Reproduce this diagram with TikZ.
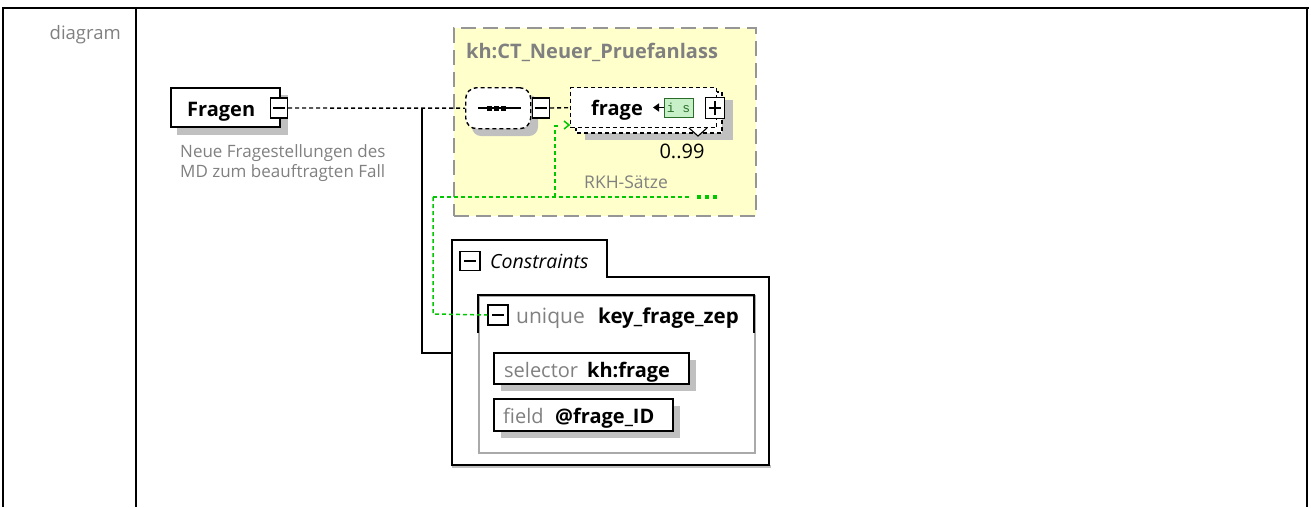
\documentclass[tikz,border=0pt]{standalone}
\usepackage{fontspec}
\setmainfont{Open Sans}
\newfontfamily\monofont{Liberation Mono}
\usetikzlibrary{arrows.meta}
\definecolor{shadowgray}{RGB}{192,192,192}
\definecolor{txtgray}{RGB}{128,128,128}
\definecolor{yellowbg}{RGB}{255,255,204}
\definecolor{dashgray}{RGB}{150,150,150}
\definecolor{linkgreen}{RGB}{0,200,0}
\definecolor{isfill}{RGB}{200,240,200}
\definecolor{isborder}{RGB}{40,110,40}
\definecolor{uniquegray}{RGB}{170,170,170}
\tikzset{
  symbox/.style={draw, fill=white, line width=1.4pt, minimum width=17pt, minimum height=20pt, inner sep=0pt},
  elembox/.style={draw, fill=white, line width=1.8pt, inner sep=0pt, anchor=north west},
  conn/.style={line width=1.4pt, dash pattern=on 4pt off 3pt},
  dashbox/.style={draw, fill=white, line width=1.4pt, dash pattern=on 4pt off 3pt},
  greenconn/.style={draw=linkgreen, line width=1.5pt, dash pattern=on 4pt off 3pt},
  lbl/.style={inner sep=0pt, anchor=base west, font=\fontsize{20}{22}\selectfont\bfseries},
  graylbl/.style={inner sep=0pt, anchor=base west, text=txtgray, font=\fontsize{20}{22}\selectfont},
}
\begin{document}
\begin{tikzpicture}[x=1pt,y=-1pt]
\useasboundingbox (0,0) rectangle (1311,507);
% table frame
\draw[line width=2.5pt] (2,8) -- (1309,8);
\draw[line width=1.5pt] (3,8) -- (3,507);
\draw[line width=1.5pt] (136,8) -- (136,507);
\draw[line width=1.5pt] (1307,8) -- (1307,507);
\node[inner sep=0pt, anchor=base east, text=txtgray, font=\fontsize{18.5}{20}\selectfont] (dlabel) at (121,39) {diagram};

% Fragen element
\fill[shadowgray] (177,95) rectangle (288,135);
\node[elembox, minimum width=109pt, minimum height=39pt] (fragen) at (170,87) {};
\node[lbl] (fragentxt) at (187,116) {Fragen};
\node[symbox] (fminus) at (279,108) {};
\draw[line width=1.3pt] ([xshift=-6pt]fminus.center) -- ([xshift=6pt]fminus.center);
\node[inner sep=0pt, anchor=base west, text=txtgray, font=\fontsize{17}{20}\selectfont] (desc1) at (180,157) {Neue Fragestellungen des};
\node[inner sep=0pt, anchor=base west, text=txtgray, font=\fontsize{17}{20}\selectfont] (desc2) at (180,177) {MD zum beauftragten Fall};

% complex type box
\node[draw=dashgray, fill=yellowbg, line width=1.8pt, dash pattern=on 15pt off 7pt, minimum width=302pt, minimum height=188pt, inner sep=0pt, anchor=north west] (ct) at (453,27) {};
\node[lbl, text=txtgray] (cttitle) at (466,58) {kh:CT\_Neuer\_Pruefanlass};

% sequence compositor
\fill[shadowgray, rounded corners=9pt] (472,95) rectangle (538,136);
\node[dashbox, rounded corners=11pt, minimum width=65pt, minimum height=41pt, inner sep=0pt, anchor=north west] (seq) at (465,87) {};
\draw[line width=1.4pt] (478,108) -- (521,108);
\fill (487,105.5) rectangle (492,110.5);
\fill (494,105.5) rectangle (499,110.5);
\fill (501,105.5) rectangle (506,110.5);
\node[symbox] (sminus) at (541,108) {};
\draw[line width=1.3pt] ([xshift=-6pt]sminus.center) -- ([xshift=6pt]sminus.center);

% frage element (multiple)
\fill[shadowgray] (585,100) rectangle (733,140);
\draw[dashbox] (576,92) rectangle (722,133);
\node[dashbox, minimum width=146pt, minimum height=40pt, inner sep=0pt, anchor=north west] (frage) at (570,87) {};
\node[lbl] (fragetxt) at (591,115) {frage};
\node[draw=isborder, fill=isfill, line width=1pt, minimum width=29pt, minimum height=19pt, inner sep=0pt, font=\monofont\fontsize{13}{13}\selectfont, text=isborder] (isbox) at (678.5,107.5) {i s};
\draw[-{Triangle[length=6pt,width=8pt]}, line width=1.4pt] (isbox.west) -- (653,107.5);
\node[symbox, minimum width=19pt, minimum height=21pt] (fplus) at (715,108) {};
\draw[line width=1.3pt] ([xshift=-6pt]fplus.center) -- ([xshift=6pt]fplus.center);
\draw[line width=1.3pt] ([yshift=-7pt]fplus.center) -- ([yshift=7pt]fplus.center);
\draw[fill=white, line width=1.1pt] (689,128) -- (698,136) -- (707,128);
\node[inner sep=0pt, anchor=base, font=\fontsize{20}{20}\selectfont] (occ) at (682,158) {0..99};
\node[inner sep=0pt, anchor=base, text=txtgray, font=\fontsize{17.5}{20}\selectfont] (rkh) at (626,188) {RKH-Sätze};

% connectors
\coordinate (j1) at (422,108);
\coordinate (j2) at (422,353);
\coordinate (cleft) at (452,353);
\draw[conn] (fminus.east) -- (seq.west);
\draw[conn] (sminus.east) -- (frage.west);
\draw[line width=1.7pt] (j1) -- (j2) -- (cleft);

% Constraints
\fill[shadowgray] (452,465) rectangle (771,468);
\draw[line width=1.8pt, fill=white] (452,240) -- (607,240) -- (607,277) -- (769,277) -- (769,465) -- (452,465) -- cycle;
\node[symbox, minimum width=20pt, minimum height=19pt] (cminus) at (470,261) {};
\draw[line width=1.3pt] ([xshift=-6pt]cminus.center) -- ([xshift=6pt]cminus.center);
\node[inner sep=0pt, anchor=base west, font=\fontsize{19.5}{20}\selectfont\itshape] (ctxt) at (490,268) {Constraints};

% unique
\node[draw=uniquegray, line width=1.8pt, minimum width=276pt, minimum height=157pt, inner sep=0pt, anchor=north west] (unique) at (478,295) {};
\draw[line width=1.8pt] (478,333) -- (478,295) -- (754,295) -- (754,333);
\node[symbox, minimum width=20pt, minimum height=20pt] (uminus) at (498,315) {};
\draw[line width=1.3pt] ([xshift=-6pt]uminus.center) -- ([xshift=6pt]uminus.center);
\node[graylbl, font=\fontsize{21}{22}\selectfont] (utxt) at (516,323) {unique};
\node[lbl, font=\fontsize{20.5}{22}\selectfont\bfseries] (ukey) at (598,323) {key\_frage\_zep};

% selector
\fill[shadowgray] (501,360) rectangle (696,391);
\node[elembox, minimum width=195pt, minimum height=31pt] (sel) at (493,352) {};
\node[graylbl] (seltxt) at (504,377) {selector};
\node[lbl] (selval) at (587,377) {kh:frage};

% field
\fill[shadowgray] (501,406) rectangle (680,438);
\node[elembox, minimum width=179pt, minimum height=32pt] (fld) at (493,398) {};
\node[graylbl] (fldtxt) at (503,423) {field};
\node[lbl] (fldval) at (555,423) {@frage\_ID};

% green key reference
\coordinate (g1) at (433,197);
\coordinate (g2) at (690,197);
\coordinate (g3) at (555,197);
\coordinate (g4) at (555,126);
\coordinate (g5) at (569,125);
\coordinate (g6) at (433,314);
\draw[greenconn] (g1) -- (g2);
\draw[greenconn] (g3) -- (g4) -- (560,126);
\draw[draw=linkgreen, line width=1.5pt] (564,121) -- (g5) -- (564,129);
\draw[greenconn] (g1) -- (g6) -- (uminus.west);
\fill[linkgreen] (697,195) rectangle (701,199);
\fill[linkgreen] (705,195) rectangle (709,199);
\fill[linkgreen] (713,195) rectangle (717,199);
\end{tikzpicture}
\end{document}
